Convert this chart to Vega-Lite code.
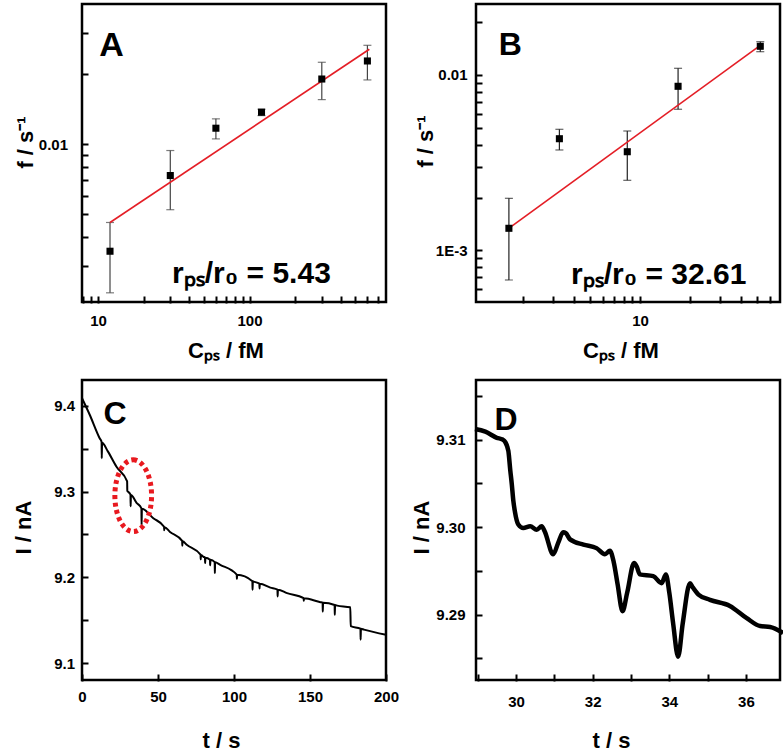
{
  "$schema": "https://vega.github.io/schema/vega-lite/v6.json",
  "background": "white",
  "padding": {"left": 10, "top": 2, "right": 2, "bottom": 2},
  "datasets": {
    "A_pts": [
      {"x": 12, "y": 0.00348, "lo": 0.00231, "hi": 0.00462},
      {"x": 30, "y": 0.00734, "lo": 0.00524, "hi": 0.00939},
      {"x": 60, "y": 0.0117, "lo": 0.01053, "hi": 0.01283},
      {"x": 120, "y": 0.0137, "lo": 0.01325, "hi": 0.01411},
      {"x": 300, "y": 0.019, "lo": 0.01551, "hi": 0.02241},
      {"x": 600, "y": 0.0227, "lo": 0.01883, "hi": 0.02649}
    ],
    "A_fit": [{"x": 12, "y": 0.00462}, {"x": 618, "y": 0.02547}],
    "A_txt": [
      {"x": 12.3, "y": 0.0262, "t": "A", "k": "letter"},
      {"x": 30.8, "y": 0.00255, "t": "rₚₛ/r₀ = 5.43", "k": "note"}
    ],
    "B_pts": [
      {"x": 1.64, "y": 0.001335, "lo": 0.000677, "hi": 0.00198},
      {"x": 3.29, "y": 0.00433, "lo": 0.003735, "hi": 0.0049},
      {"x": 8.39, "y": 0.00365, "lo": 0.002507, "hi": 0.004792},
      {"x": 16.9, "y": 0.00862, "lo": 0.006375, "hi": 0.01092},
      {"x": 52.5, "y": 0.01458, "lo": 0.01358, "hi": 0.01549}
    ],
    "B_fit": [{"x": 1.636, "y": 0.001335}, {"x": 53.5, "y": 0.01496}],
    "B_txt": [
      {"x": 1.67, "y": 0.01483, "t": "B"},
      {"x": 3.86, "y": 0.000643, "t": "rₚₛ/r₀ = 32.61"}
    ],
    "C_line": [
      {"t": 0, "i": 9.409}, {"t": 5, "i": 9.39}, {"t": 11.7, "i": 9.362},
      {"t": 12.9, "i": 9.358}, {"t": 13.0, "i": 9.339}, {"t": 13.2, "i": 9.357},
      {"t": 17, "i": 9.347}, {"t": 22.7, "i": 9.329}, {"t": 29.7, "i": 9.312},
      {"t": 29.8, "i": 9.301}, {"t": 30.3, "i": 9.3},
      {"t": 31.9, "i": 9.2965}, {"t": 32.0, "i": 9.283}, {"t": 32.2, "i": 9.296},
      {"t": 35.9, "i": 9.287},
      {"t": 39.1, "i": 9.2805}, {"t": 39.2, "i": 9.261}, {"t": 39.4, "i": 9.28},
      {"t": 46.9, "i": 9.269},
      {"t": 54.0, "i": 9.259}, {"t": 54.1, "i": 9.255}, {"t": 54.3, "i": 9.2585},
      {"t": 57.9, "i": 9.253},
      {"t": 65.9, "i": 9.2425}, {"t": 66.0, "i": 9.237}, {"t": 66.2, "i": 9.242},
      {"t": 68.9, "i": 9.238},
      {"t": 78.0, "i": 9.2265}, {"t": 78.1, "i": 9.221}, {"t": 78.3, "i": 9.226},
      {"t": 79.9, "i": 9.224},
      {"t": 80.9, "i": 9.2232}, {"t": 81.0, "i": 9.2166}, {"t": 81.2, "i": 9.223},
      {"t": 84.2, "i": 9.2206}, {"t": 84.3, "i": 9.214}, {"t": 84.5, "i": 9.2204},
      {"t": 87.3, "i": 9.2177}, {"t": 87.4, "i": 9.205}, {"t": 87.6, "i": 9.2175},
      {"t": 90.9, "i": 9.2146},
      {"t": 101.8, "i": 9.2031}, {"t": 101.9, "i": 9.198}, {"t": 102.1, "i": 9.2029},
      {"t": 112.1, "i": 9.1955}, {"t": 112.2, "i": 9.1855}, {"t": 112.4, "i": 9.1953},
      {"t": 112.9, "i": 9.195},
      {"t": 116.7, "i": 9.1926}, {"t": 116.8, "i": 9.187}, {"t": 117.0, "i": 9.1925},
      {"t": 123.9, "i": 9.188},
      {"t": 128.6, "i": 9.1857}, {"t": 128.7, "i": 9.1777}, {"t": 128.9, "i": 9.1856},
      {"t": 134.9, "i": 9.1816},
      {"t": 145.8, "i": 9.1758}, {"t": 145.9, "i": 9.1726}, {"t": 146.1, "i": 9.1756},
      {"t": 156.9, "i": 9.171},
      {"t": 158.3, "i": 9.1705}, {"t": 158.4, "i": 9.16}, {"t": 158.6, "i": 9.1704},
      {"t": 166.2, "i": 9.1677}, {"t": 166.3, "i": 9.1563}, {"t": 166.5, "i": 9.1676},
      {"t": 167.9, "i": 9.167}, {"t": 176.5, "i": 9.165}, {"t": 176.8, "i": 9.143},
      {"t": 183.2, "i": 9.1401}, {"t": 183.3, "i": 9.1272}, {"t": 183.5, "i": 9.14},
      {"t": 185.5, "i": 9.139}, {"t": 200, "i": 9.133}
    ],
    "C_ell": [{"t": 33.7, "i": 9.2953}],
    "C_txt": [{"t": 21.8, "i": 9.3907, "s": "C"}],
    "D_line": [
      {"t": 28.93, "i": 9.3112}, {"t": 29.2, "i": 9.3109}, {"t": 29.5, "i": 9.3102},
      {"t": 29.65, "i": 9.31}, {"t": 29.72, "i": 9.3097}, {"t": 29.8, "i": 9.3087},
      {"t": 29.85, "i": 9.3065}, {"t": 29.89, "i": 9.3049}, {"t": 29.93, "i": 9.303},
      {"t": 29.97, "i": 9.3018}, {"t": 30.06, "i": 9.3003}, {"t": 30.19, "i": 9.2999},
      {"t": 30.37, "i": 9.3001}, {"t": 30.54, "i": 9.2997}, {"t": 30.67, "i": 9.3001},
      {"t": 30.75, "i": 9.2995}, {"t": 30.97, "i": 9.2969}, {"t": 31.1, "i": 9.2982},
      {"t": 31.23, "i": 9.2994}, {"t": 31.3, "i": 9.2993}, {"t": 31.41, "i": 9.2986},
      {"t": 31.76, "i": 9.298}, {"t": 32.1, "i": 9.2976}, {"t": 32.32, "i": 9.2969},
      {"t": 32.45, "i": 9.2973}, {"t": 32.55, "i": 9.296}, {"t": 32.65, "i": 9.2935},
      {"t": 32.78, "i": 9.2904}, {"t": 32.9, "i": 9.2925}, {"t": 33.08, "i": 9.2959},
      {"t": 33.15, "i": 9.2955}, {"t": 33.23, "i": 9.2946}, {"t": 33.58, "i": 9.2944},
      {"t": 33.8, "i": 9.2936}, {"t": 33.91, "i": 9.2946}, {"t": 34.0, "i": 9.2925},
      {"t": 34.1, "i": 9.289}, {"t": 34.23, "i": 9.2852}, {"t": 34.35, "i": 9.289},
      {"t": 34.54, "i": 9.2936}, {"t": 34.6, "i": 9.2932}, {"t": 34.76, "i": 9.2923},
      {"t": 35.06, "i": 9.2917}, {"t": 35.58, "i": 9.291}, {"t": 36.02, "i": 9.2896},
      {"t": 36.37, "i": 9.2887}, {"t": 36.63, "i": 9.2886}, {"t": 36.97, "i": 9.2879}
    ],
    "D_txt": [{"t": 29.74, "i": 9.3122, "s": "D"}]
  },
  "concat": [
    {
      "width": 304, "height": 298,
      "layer": [
        {
          "data": {"name": "A_pts"},
          "mark": {"type": "rule", "color": "#444", "strokeWidth": 1.2},
          "encoding": {
            "x": {"field": "x", "type": "quantitative", "scale": {"type": "log", "domain": [7.84, 796], "nice": false},
              "axis": {"values": [8, 9, 10, 20, 30, 40, 50, 60, 70, 80, 90, 100, 200, 300, 400, 500, 600, 700],
                "labelExpr": "(datum.value == 10 || datum.value == 100) ? format(datum.value, 'd') : ''",
                "labelPadding": 10.5, "title": "Cₚₛ / fM", "titleX": 143.5, "titleY": 61, "titleBaseline": "alphabetic", "titleAlign": "center"}},
            "y": {"field": "lo", "type": "quantitative", "scale": {"type": "log", "domain": [0.00211, 0.0398], "nice": false},
              "axis": {"values": [0.003, 0.004, 0.005, 0.006, 0.007, 0.008, 0.009, 0.01, 0.02, 0.03],
                "labelExpr": "abs(datum.value - 0.01) < 1e-9 ? '0.01' : ''",
                "labelPadding": 13.5, "title": "f / s⁻¹", "titleX": -56, "titleY": 138, "titleBaseline": "alphabetic", "titleAlign": "center"}},
            "y2": {"field": "hi"}
          }
        },
        {
          "data": {"name": "A_pts"},
          "mark": {"type": "tick", "orient": "horizontal", "color": "#444", "size": 8, "thickness": 1.2},
          "encoding": {
            "x": {"field": "x", "type": "quantitative", "scale": {"type": "log"}},
            "y": {"field": "lo", "type": "quantitative", "scale": {"type": "log"}}
          }
        },
        {
          "data": {"name": "A_pts"},
          "mark": {"type": "tick", "orient": "horizontal", "color": "#444", "size": 8, "thickness": 1.2},
          "encoding": {
            "x": {"field": "x", "type": "quantitative", "scale": {"type": "log"}},
            "y": {"field": "hi", "type": "quantitative", "scale": {"type": "log"}}
          }
        },
        {
          "data": {"name": "A_fit"},
          "mark": {"type": "line", "color": "#e41e26", "strokeWidth": 1.6},
          "encoding": {
            "x": {"field": "x", "type": "quantitative", "scale": {"type": "log"}},
            "y": {"field": "y", "type": "quantitative", "scale": {"type": "log"}}
          }
        },
        {
          "data": {"name": "A_pts"},
          "mark": {"type": "point", "shape": "square", "filled": true, "color": "black", "opacity": 1, "size": 50},
          "encoding": {
            "x": {"field": "x", "type": "quantitative", "scale": {"type": "log"}},
            "y": {"field": "y", "type": "quantitative", "scale": {"type": "log"}}
          }
        },
        {
          "data": {"name": "A_txt"},
          "transform": [{"filter": "datum.k == 'letter'"}],
          "mark": {"type": "text", "fontSize": 34, "align": "center", "baseline": "middle"},
          "encoding": {
            "x": {"field": "x", "type": "quantitative", "scale": {"type": "log"}},
            "y": {"field": "y", "type": "quantitative", "scale": {"type": "log"}},
            "text": {"field": "t"}
          }
        },
        {
          "data": {"name": "A_txt"},
          "transform": [{"filter": "datum.k == 'note'"}],
          "mark": {"type": "text", "fontSize": 30, "align": "left", "baseline": "alphabetic"},
          "encoding": {
            "x": {"field": "x", "type": "quantitative", "scale": {"type": "log"}},
            "y": {"field": "y", "type": "quantitative", "scale": {"type": "log"}},
            "text": {"field": "t"}
          }
        }
      ]
    },
    {
      "width": 304, "height": 298,
      "layer": [
        {
          "data": {"name": "B_pts"},
          "mark": {"type": "rule", "color": "#222", "strokeWidth": 1.2},
          "encoding": {
            "x": {"field": "x", "type": "quantitative", "scale": {"type": "log", "domain": [1.042, 68.9], "nice": false},
              "axis": {"values": [2, 3, 4, 5, 6, 7, 8, 9, 10, 20, 30, 40, 50, 60],
                "labelExpr": "datum.value == 10 ? '10' : ''",
                "labelPadding": 10, "title": "Cₚₛ / fM", "titleX": 144.5, "titleY": 61, "titleBaseline": "alphabetic", "titleAlign": "center"}},
            "y": {"field": "lo", "type": "quantitative", "scale": {"type": "log", "domain": [0.000507, 0.02541], "nice": false},
              "axis": {"values": [0.0006, 0.0007, 0.0008, 0.0009, 0.001, 0.002, 0.003, 0.004, 0.005, 0.006, 0.007, 0.008, 0.009, 0.01, 0.02],
                "labelExpr": "abs(datum.value - 0.01) < 1e-9 ? '0.01' : (abs(datum.value - 0.001) < 1e-10 ? '1E-3' : '')",
                "labelPadding": 8, "title": "f / s⁻¹", "titleX": -50, "titleY": 137, "titleBaseline": "alphabetic", "titleAlign": "center"}},
            "y2": {"field": "hi"}
          }
        },
        {
          "data": {"name": "B_pts"},
          "mark": {"type": "tick", "orient": "horizontal", "color": "#222", "size": 8, "thickness": 1.2},
          "encoding": {
            "x": {"field": "x", "type": "quantitative", "scale": {"type": "log"}},
            "y": {"field": "lo", "type": "quantitative", "scale": {"type": "log"}}
          }
        },
        {
          "data": {"name": "B_pts"},
          "mark": {"type": "tick", "orient": "horizontal", "color": "#222", "size": 8, "thickness": 1.2},
          "encoding": {
            "x": {"field": "x", "type": "quantitative", "scale": {"type": "log"}},
            "y": {"field": "hi", "type": "quantitative", "scale": {"type": "log"}}
          }
        },
        {
          "data": {"name": "B_fit"},
          "mark": {"type": "line", "color": "#e41e26", "strokeWidth": 1.6},
          "encoding": {
            "x": {"field": "x", "type": "quantitative", "scale": {"type": "log"}},
            "y": {"field": "y", "type": "quantitative", "scale": {"type": "log"}}
          }
        },
        {
          "data": {"name": "B_pts"},
          "mark": {"type": "point", "shape": "square", "filled": true, "color": "black", "opacity": 1, "size": 50},
          "encoding": {
            "x": {"field": "x", "type": "quantitative", "scale": {"type": "log"}},
            "y": {"field": "y", "type": "quantitative", "scale": {"type": "log"}}
          }
        },
        {
          "data": {"name": "B_txt"},
          "transform": [{"filter": "datum.t == 'B'"}],
          "mark": {"type": "text", "fontSize": 32, "align": "center", "baseline": "middle"},
          "encoding": {
            "x": {"field": "x", "type": "quantitative", "scale": {"type": "log"}},
            "y": {"field": "y", "type": "quantitative", "scale": {"type": "log"}},
            "text": {"field": "t"}
          }
        },
        {
          "data": {"name": "B_txt"},
          "transform": [{"filter": "datum.t != 'B'"}],
          "mark": {"type": "text", "fontSize": 30, "align": "left", "baseline": "alphabetic"},
          "encoding": {
            "x": {"field": "x", "type": "quantitative", "scale": {"type": "log"}},
            "y": {"field": "y", "type": "quantitative", "scale": {"type": "log"}},
            "text": {"field": "t"}
          }
        }
      ]
    },
    {
      "width": 304, "height": 300,
      "layer": [
        {
          "data": {"name": "C_line"},
          "mark": {"type": "line", "color": "black", "strokeWidth": 2, "interpolate": "monotone"},
          "encoding": {
            "x": {"field": "t", "type": "quantitative", "scale": {"domain": [0, 200], "nice": false, "zero": false},
              "axis": {"values": [0, 25, 50, 75, 100, 125, 150, 175, 200],
                "labelExpr": "datum.value % 50 == 0 ? format(datum.value, 'd') : ''",
                "labelPadding": 8, "title": "t / s", "titleX": 139, "titleY": 73, "titleBaseline": "alphabetic", "titleAlign": "center"}},
            "y": {"field": "i", "type": "quantitative", "scale": {"domain": [9.0802, 9.4303], "nice": false, "zero": false},
              "axis": {"values": [9.1, 9.15, 9.2, 9.25, 9.3, 9.35, 9.4],
                "labelExpr": "abs(datum.value * 10 - round(datum.value * 10)) < 0.001 ? format(datum.value, '.1f') : ''",
                "labelPadding": 6.5, "title": "I / nA", "titleX": -58, "titleY": 147, "titleBaseline": "alphabetic", "titleAlign": "center"}}
          }
        },
        {
          "data": {"name": "C_ell"},
          "mark": {"type": "point", "shape": "M0,-1A0.512,1 0 1,1 0,1A0.512,1 0 1,1 0,-1Z", "filled": false, "stroke": "#e8191f", "strokeWidth": 5, "strokeDash": [4, 3.5], "opacity": 1, "size": 5140},
          "encoding": {
            "x": {"field": "t", "type": "quantitative"},
            "y": {"field": "i", "type": "quantitative"}
          }
        },
        {
          "data": {"name": "C_txt"},
          "mark": {"type": "text", "fontSize": 32, "align": "center", "baseline": "middle"},
          "encoding": {
            "x": {"field": "t", "type": "quantitative"},
            "y": {"field": "i", "type": "quantitative"},
            "text": {"field": "s"}
          }
        }
      ]
    },
    {
      "width": 304, "height": 300,
      "layer": [
        {
          "data": {"name": "D_line"},
          "mark": {"type": "line", "color": "black", "strokeWidth": 4.5, "interpolate": "monotone"},
          "encoding": {
            "x": {"field": "t", "type": "quantitative", "scale": {"domain": [28.956, 36.888], "nice": false, "zero": false},
              "axis": {"values": [29, 30, 31, 32, 33, 34, 35, 36],
                "labelExpr": "datum.value % 2 == 0 ? format(datum.value, 'd') : ''",
                "labelPadding": 13, "title": "t / s", "titleX": 135, "titleY": 73, "titleBaseline": "alphabetic", "titleAlign": "center"}},
            "y": {"field": "i", "type": "quantitative", "scale": {"domain": [9.28254, 9.3168], "nice": false, "zero": false},
              "axis": {"values": [9.285, 9.29, 9.295, 9.3, 9.305, 9.31, 9.315],
                "labelExpr": "abs(datum.value * 100 - round(datum.value * 100)) < 0.001 ? format(datum.value, '.2f') : ''",
                "labelPadding": 10, "title": "I / nA", "titleX": -54, "titleY": 147, "titleBaseline": "alphabetic", "titleAlign": "center"}}
          }
        },
        {
          "data": {"name": "D_txt"},
          "mark": {"type": "text", "fontSize": 32, "align": "center", "baseline": "middle"},
          "encoding": {
            "x": {"field": "t", "type": "quantitative"},
            "y": {"field": "i", "type": "quantitative"},
            "text": {"field": "s"}
          }
        }
      ]
    }
  ],
  "columns": 2,
  "bounds": "flush",
  "spacing": {"row": 78, "column": 90},
  "config": {
    "view": {"stroke": "black", "strokeWidth": 2.5},
    "axis": {
      "domain": false, "grid": false, "ticks": true, "tickColor": "black", "tickWidth": 2, "tickSize": 7, "tickOpacity": 1, "offset": -6, "zindex": 1,
      "labelFont": "Liberation Sans", "labelFontSize": 15, "labelFontWeight": "bold", "labelColor": "black",
      "labelFlush": false, "labelOverlap": false,
      "titleFont": "Liberation Sans", "titleFontSize": 22, "titleFontWeight": "bold", "titleColor": "black"
    },
    "text": {"font": "Liberation Sans", "fontWeight": "bold", "color": "black"}
  }
}
